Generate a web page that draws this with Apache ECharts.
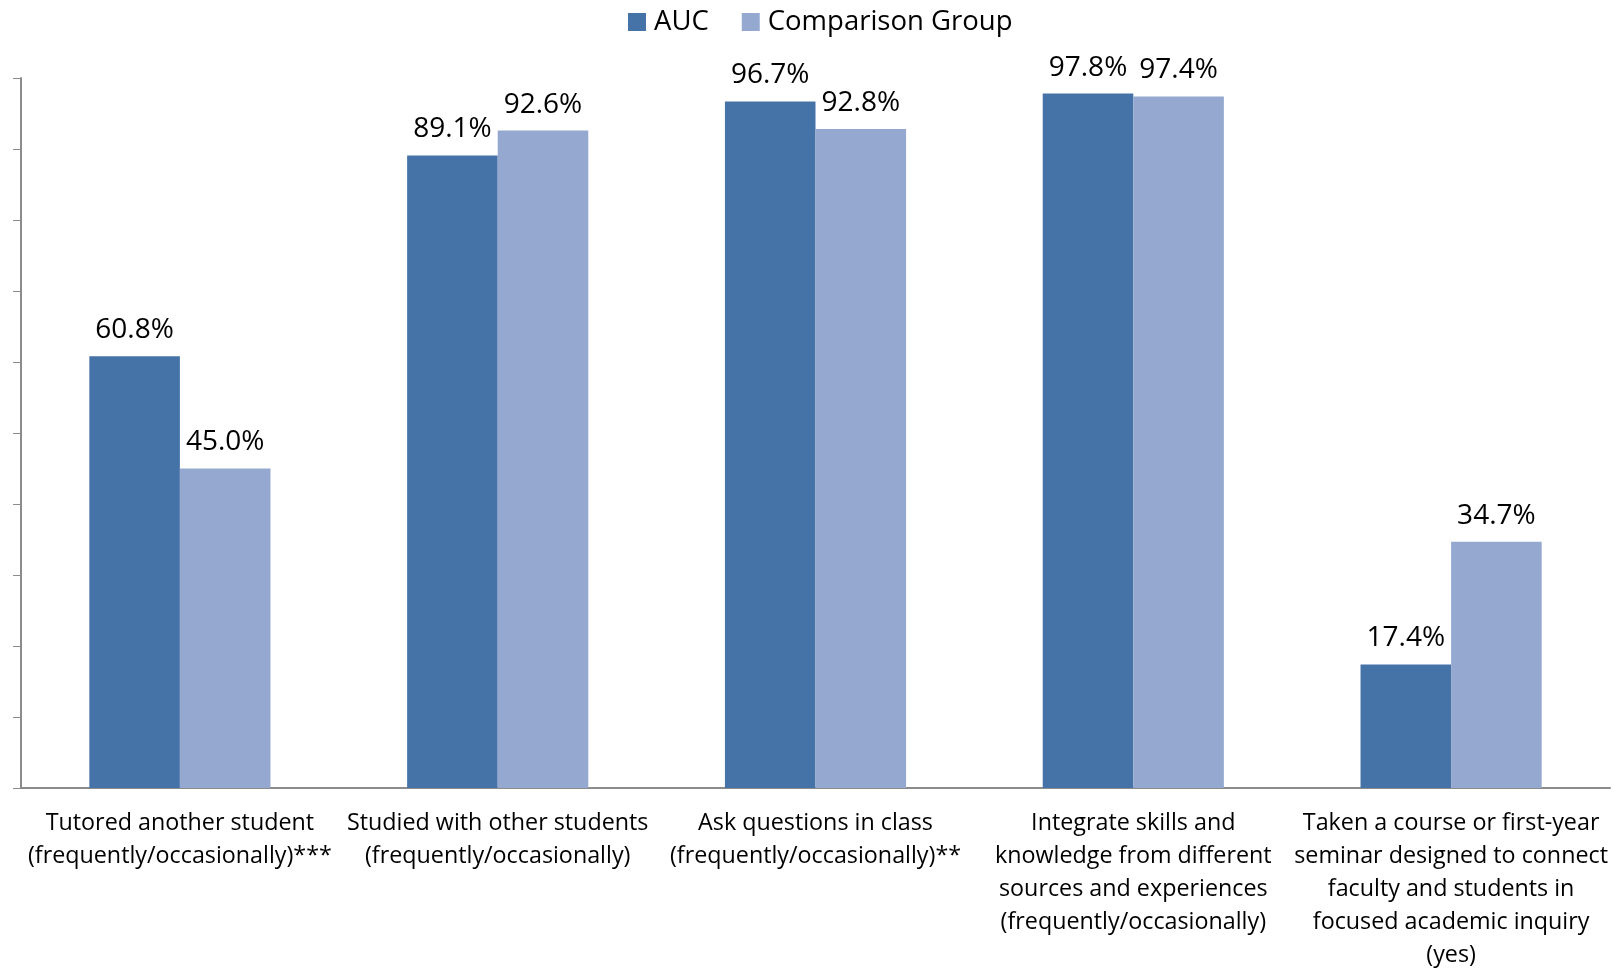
<!DOCTYPE html>
<html>
<head>
<meta charset="utf-8">
<script src="https://cdn.jsdelivr.net/npm/echarts@6/dist/echarts.min.js"></script>
<style>
  html, body { margin: 0; padding: 0; background: #fff; }
  #chart { width: 1622px; height: 968px; }
</style>
</head>
<body>
<div id="chart"></div>
<script>
// Survey items (x-axis categories)
const categories = [
  'Tutored another student\n(frequently/occasionally)***',
  'Studied with other students\n(frequently/occasionally)',
  'Ask questions in class\n(frequently/occasionally)**',
  'Integrate skills and\nknowledge from different\nsources and experiences\n(frequently/occasionally)',
  'Taken a course or first-year\nseminar designed to connect\nfaculty and students in\nfocused academic inquiry\n(yes)'
];

// Percentages per group
const aucValues = [60.8, 89.1, 96.7, 97.8, 17.4];
const comparisonValues = [45.0, 92.6, 92.8, 97.4, 34.7];

const seriesNames = ['AUC', 'Comparison Group'];
const colors = ['#4673A7', '#95A9D0'];

const FONT = '"Open Sans", "Noto Sans", sans-serif';

const chart = echarts.init(document.getElementById('chart'));

const labelStyle = {
  show: true,
  position: 'top',
  distance: 12,
  color: '#000',
  fontFamily: FONT,
  fontSize: 28,
  formatter: p => p.value.toFixed(1) + '%'
};

chart.setOption({
  animation: false,
  color: colors,
  legend: {
    data: seriesNames,
    top: 3,
    left: 623,
    itemWidth: 18,
    itemHeight: 18,
    itemGap: 33,
    icon: 'rect',
    textStyle: { fontFamily: FONT, fontSize: 27.5, color: '#000', padding: [0, 0, 0, 3] }
  },
  grid: {
    left: 21, right: 12, top: 78, bottom: 180,
    containLabel: false,
    outerBoundsMode: 'none'
  },
  xAxis: {
    type: 'category',
    data: categories,
    axisLine: { lineStyle: { color: '#8c8c8c', width: 2 } },
    axisTick: { show: false },
    axisLabel: {
      interval: 0,
      margin: 19,
      color: '#000',
      fontFamily: FONT,
      fontSize: 23.3,
      lineHeight: 33,
      align: 'center'
    }
  },
  yAxis: {
    type: 'value',
    min: 0,
    max: 100,
    interval: 10,
    axisLine: { show: true, lineStyle: { color: '#8c8c8c', width: 2 } },
    axisTick: { show: true, length: 8, lineStyle: { color: '#8c8c8c', width: 1 } },
    axisLabel: { show: false },
    splitLine: { show: false }
  },
  series: [
    {
      name: seriesNames[0],
      type: 'bar',
      data: aucValues,
      barGap: '0%',
      barCategoryGap: '43%',
      label: labelStyle
    },
    {
      name: seriesNames[1],
      type: 'bar',
      data: comparisonValues,
      label: labelStyle
    }
  ]
});
</script>
</body>
</html>
